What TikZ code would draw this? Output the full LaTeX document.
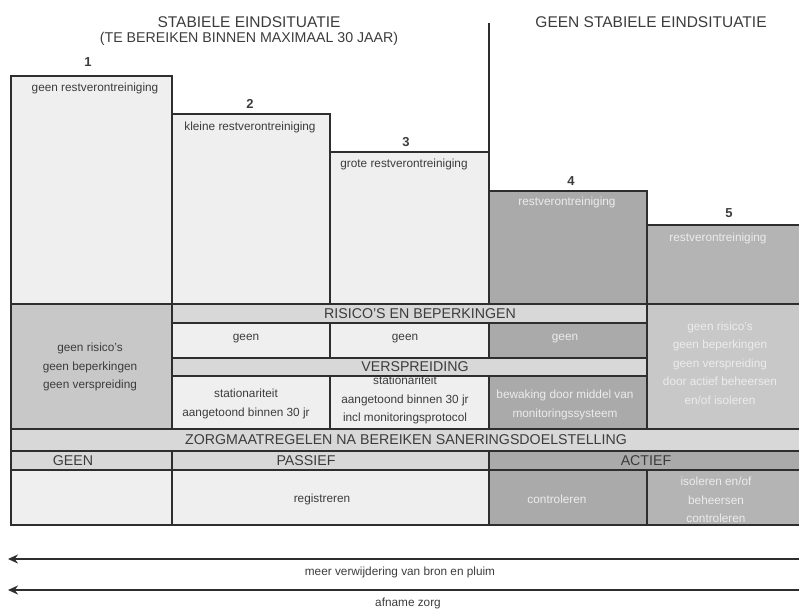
\documentclass[tikz,border=0pt]{standalone}
\usepackage{fontspec}
\setmainfont{Liberation Sans}
\usetikzlibrary{arrows.meta}

\definecolor{lijn}{HTML}{2E2E2E}
\definecolor{tekst}{HTML}{3C3C3C}
\definecolor{wit}{HTML}{EFEFEF}
\definecolor{band}{HTML}{D8D8D8}
\definecolor{grijs}{HTML}{C8C8C8}
\definecolor{donker}{HTML}{AAAAAA}
\definecolor{middel}{HTML}{B4B4B4}
\definecolor{lichttekst}{HTML}{ECECEC}

\tikzset{
  vak/.style={draw=lijn, line width=1.5pt},
  klein/.style={text=tekst, align=center, font=\fontsize{11.8}{18.5}\selectfont},
  kleinlicht/.style={klein, text=lichttekst},
  kop/.style={text=tekst, font=\fontsize{14.2}{17}\selectfont},
  titel/.style={text=tekst, font=\fontsize{15.5}{18}\selectfont},
  nummer/.style={text=tekst, font=\fontsize{13}{15}\selectfont\bfseries},
  pijl/.style={draw=lijn, line width=2.2pt, -{Stealth[length=10pt,width=9pt]}}
}

\begin{document}
\begin{tikzpicture}[x=1pt,y=-1pt]
\useasboundingbox (0,0) rectangle (799,608);

% titels
\node[titel] (stabiel) at (249,22) {STABIELE EINDSITUATIE};
\node[kop] (termijn) at (249,39) {(TE BEREIKEN BINNEN MAXIMAAL 30 JAAR)};
\node[titel] (nietstabiel) at (651,22) {GEEN STABIELE EINDSITUATIE};
\draw[vak] (489,23) -- (489,191);

% bovenste vakken
\draw[vak,fill=wit] (11,76) rectangle (172,304);
\draw[vak,fill=wit] (172,114) rectangle (330,304);
\draw[vak,fill=wit] (330,152) rectangle (489,304);
\draw[vak,fill=donker] (489,191) rectangle (647,304);
\draw[vak,fill=middel] (647,225) rectangle (802,304);

\node[nummer] (nr1) at (88,62) {1};
\node[nummer] (nr2) at (250,104) {2};
\node[nummer] (nr3) at (406,142) {3};
\node[nummer] (nr4) at (571,181) {4};
\node[nummer] (nr5) at (729,213) {5};

\node[klein] (rest1) at (95,88) {geen restverontreiniging};
\node[klein] (rest2) at (250,127) {kleine restverontreiniging};
\node[klein] (rest3) at (404,164) {grote restverontreiniging};
\node[kleinlicht] (rest4) at (567,202) {restverontreiniging};
\node[kleinlicht] (rest5) at (718,238) {restverontreiniging};

% risico's en verspreiding
\draw[vak,fill=grijs] (11,304) rectangle (172,429);
\draw[vak,fill=band] (172,304) rectangle (647,323);
\draw[vak,fill=wit] (172,323) rectangle (330,358);
\draw[vak,fill=wit] (330,323) rectangle (489,358);
\draw[vak,fill=donker] (489,323) rectangle (647,358);
\draw[vak,fill=band] (172,358) rectangle (647,376);
\draw[vak,fill=wit] (172,376) rectangle (330,429);
\draw[vak,fill=wit] (330,376) rectangle (489,429);
\draw[vak,fill=donker] (489,376) rectangle (647,429);
\draw[vak,fill=grijs] (647,304) rectangle (802,429);

\node[klein] (geenalles) at (90,367) {geen risico's\\geen beperkingen\\geen verspreiding};
\node[kop] (risico) at (420,314) {RISICO'S EN BEPERKINGEN};
\node[klein] (geen2) at (246,339) {geen};
\node[klein] (geen3) at (405,339) {geen};
\node[kleinlicht] (geen4) at (565,339) {geen};
\node[kop] (verspreiding) at (415,367) {VERSPREIDING};
\node[klein] (stat2) at (246,404) {stationariteit\\aangetoond binnen 30 jr};
\node[klein] (stat3) at (405,400) {stationariteit\\aangetoond binnen 30 jr\\incl monitoringsprotocol};
\node[kleinlicht] (bewaking) at (565,405) {bewaking door middel van\\monitoringssysteem};
\node[kleinlicht] (actiefvrij) at (720,363) {geen risico's\\geen beperkingen\\geen verspreiding\\door actief beheersen\\en/of isoleren};

% zorgmaatregelen
\draw[vak,fill=band] (11,429) rectangle (802,451);
\draw[vak,fill=band] (11,451) rectangle (172,470);
\draw[vak,fill=band] (172,451) rectangle (489,470);
\draw[vak,fill=donker] (489,451) rectangle (802,470);
\draw[vak,fill=wit] (11,470) rectangle (172,525);
\draw[vak,fill=wit] (172,470) rectangle (489,525);
\draw[vak,fill=donker] (489,470) rectangle (647,525);
\draw[vak,fill=middel] (647,470) rectangle (802,525);

\node[kop] (zorg) at (406,440) {ZORGMAATREGELEN NA BEREIKEN SANERINGSDOELSTELLING};
\node[kop] (geenzorg) at (73,461) {GEEN};
\node[kop] (passief) at (306,461) {PASSIEF};
\node[kop] (actief) at (646,461) {ACTIEF};
\node[klein] (registreren) at (322,499) {registreren};
\node[kleinlicht] (controleren) at (557,499) {controleren};
\node[kleinlicht] (isoleren) at (716,500) {isoleren en/of\\beheersen\\controleren};

% pijlen
\coordinate (verwijderR) at (799,559);
\coordinate (verwijderL) at (8,559);
\coordinate (zorgR) at (799,590);
\coordinate (zorgL) at (8,590);
\draw[pijl] (verwijderR) -- (verwijderL);
\draw[pijl] (zorgR) -- (zorgL);
\node[klein] (verwijdering) at (400,572) {meer verwijdering van bron en pluim};
\node[klein] (afname) at (408,603) {afname zorg};
\end{tikzpicture}
\end{document}
